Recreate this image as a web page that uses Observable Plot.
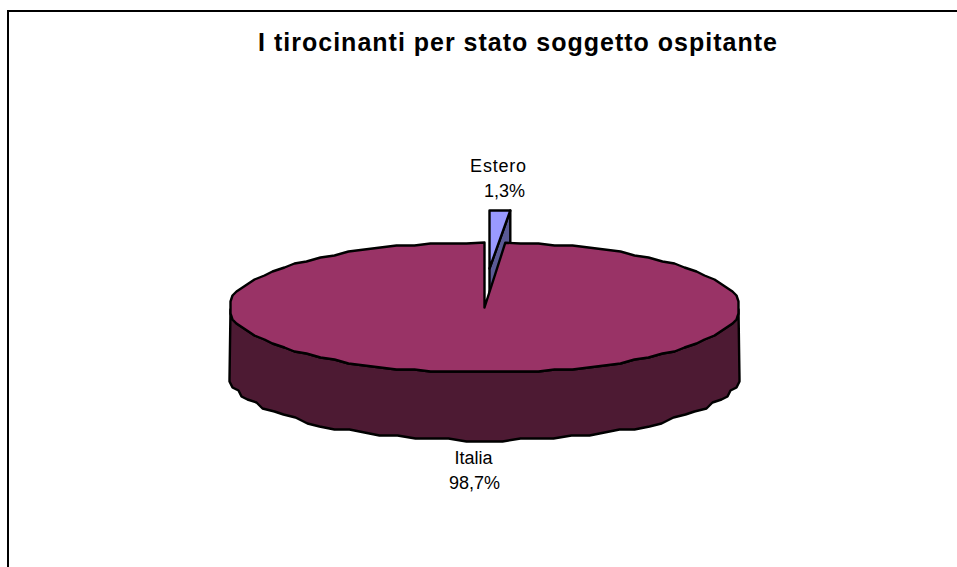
<!DOCTYPE html>
<html><head><meta charset="utf-8">
<script src="https://cdn.jsdelivr.net/npm/d3@7"></script>
<script src="https://cdn.jsdelivr.net/npm/@observablehq/plot@0.6"></script>
<style>
html,body{margin:0;background:#fff;overflow:hidden}
#page{position:relative;width:957px;height:567px;overflow:hidden}
#frame{position:absolute;left:7px;top:10px;width:1000px;height:600px;border:2px solid #000;box-sizing:content-box}
#title{position:absolute;left:0;top:28px;width:1036px;text-align:center;font:bold 25px "Liberation Sans",Arial,sans-serif;letter-spacing:1px;color:#000;margin:0}
#chart{position:absolute;left:0;top:0}
.spaced text{letter-spacing:.8px}
</style></head><body>
<div id="page"><div id="frame"></div><h1 id="title">I tirocinanti per stato soggetto ospitante</h1><div id="chart"></div></div>
<script>
const categories = ["Estero", "Italia"];
const shares = [1.3, 98.7];
const shareLabels = ["1,3%", "98,7%"];
const colTop = ["#9999ff", "#993366"];
const colSide = ["#5a5a96", "#4d1a33"];

// Pie geometry in pie units (1 = radius of the top ellipse on each axis)
const W = 957, H = 567, cx = 484, cy = 307, rx = 255, ry = 65;
const depth = 68 / ry;
const explode = [5 / rx, 39 / ry];
const sweep = shares[0] / 100 * 360;
const rad = d => d * Math.PI / 180;
const pt = a => [Math.sin(rad(a)), Math.cos(rad(a))]; // clockwise from 12 o'clock
const snap = grid => ([x, y]) => [Math.round(x * rx / grid) * grid / rx, Math.round(y * ry / grid) * grid / ry];
const step = 4;
// Outline vertices at multiples of `step`, coarsely quantised as in the reference
const arc = (a0, a1, grid) => d3.range(Math.ceil(a0 / step), Math.floor(a1 / step) + 1).map(i => snap(grid)(pt(i * step)));

const pieTop = [[0, 0], pt(sweep), ...arc(sweep + step / 2, 360 - step / 2, 2), pt(0), [0, 0]];
// Visible wall: front half of the ellipse, from rightmost to leftmost point
const frontEdge = arc(90, 270, 2);
const bottomEdge = arc(90, 270, 3).map(([x, y]) => [x, y - depth]);
const wall = [...frontEdge, ...bottomEdge.reverse(), frontEdge[0]];
const sliceR = pt(sweep);
const squeeze = 58 / 65;
const sliceTop = [[0, 0], [0, 1], [sliceR[0], 1], [0, 0]].map(([x, y]) => [x + explode[0], y * squeeze + explode[1]]);
const sliceFace = [sliceTop[0], sliceTop[2], [sliceTop[2][0], sliceTop[2][1] - depth], [sliceTop[0][0], sliceTop[0][1] - depth], sliceTop[0]];

const poly = (pts, fill) => Plot.line(pts, {x: d => d[0], y: d => d[1], fill, stroke: "#000", strokeWidth: 2.4, strokeLinejoin: "round", curve: "linear"});

const ux = px => (px - cx) / rx, uy = py => (cy - py) / ry;
const labels = [
  {c: categories[0], s: shareLabels[0], cx: 498, cy: 166, vx: 504, vy: 191},
  {c: categories[1], s: shareLabels[1], cx: 473, cy: 458, vx: 474, vy: 483}
];

const plot = Plot.plot({
  width: W, height: H, margin: 0,
  x: {domain: [ux(0), ux(W)], range: [0, W], axis: null},
  y: {domain: [uy(0), uy(H)], range: [0, H], axis: null},
  marks: [
    poly(sliceFace, colSide[0]),
    poly(sliceTop, colTop[0]),
    poly(wall, colSide[1]),
    poly(pieTop, colTop[1]),
    Plot.text(labels.slice(0, 1), {x: d => ux(d.cx), y: d => uy(d.cy), text: "c", fontSize: 18, fontFamily: "Liberation Sans", fill: "#000", className: "spaced"}),
    Plot.text(labels.slice(1), {x: d => ux(d.cx), y: d => uy(d.cy), text: "c", fontSize: 18, fontFamily: "Liberation Sans", fill: "#000"}),
    Plot.text(labels, {x: d => ux(d.vx), y: d => uy(d.vy), text: "s", fontSize: 18, fontFamily: "Liberation Sans", fill: "#000"})
  ]
});
plot.style.background = "transparent";
document.getElementById("chart").append(plot);
</script></body></html>
